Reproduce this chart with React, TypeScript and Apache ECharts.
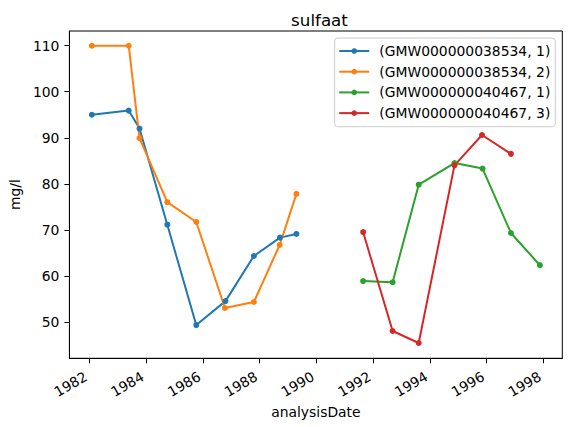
import React, { useEffect, useRef } from "react";
import * as echarts from "echarts";

const seriesNames = [
  "(GMW000000038534, 1)",
  "(GMW000000038534, 2)",
  "(GMW000000040467, 1)",
  "(GMW000000040467, 3)",
];
const colors = ["#1f77b4", "#ff7f0e", "#2ca02c", "#d62728"];

const years1 = [1982.09, 1983.39, 1983.77, 1984.75, 1985.77, 1986.8, 1987.8, 1988.72, 1989.3];
const values1 = [95.0, 95.9, 92.0, 71.1, 49.3, 54.5, 64.3, 68.3, 69.1];

const years2 = [1982.09, 1983.39, 1983.77, 1984.75, 1985.77, 1986.78, 1987.8, 1988.71, 1989.3];
const values2 = [110.0, 110.0, 89.9, 76.0, 71.7, 53.0, 54.3, 66.7, 77.8];

const years3 = [1991.65, 1992.69, 1993.61, 1994.87, 1995.86, 1996.86, 1997.88];
const values3 = [58.85, 58.6, 79.8, 84.5, 83.3, 69.3, 62.3];

const years4 = [1991.65, 1992.69, 1993.61, 1994.87, 1995.84, 1996.86];
const values4 = [69.5, 48.0, 45.4, 84.0, 90.6, 86.5];

const xTicks = [1982, 1984, 1986, 1988, 1990, 1992, 1994, 1996, 1998];
const yTicks = [50, 60, 70, 80, 90, 100, 110];

const allYears = [years1, years2, years3, years4];
const allValues = [values1, values2, values3, values4];

const FONT = "DejaVu Sans";
const FS = 13.9;

export default function App() {
  const ref = useRef<HTMLDivElement>(null);
  useEffect(() => {
    if (!ref.current) return;
    const chart = echarts.init(ref.current, undefined, { renderer: "svg" });
    const series = seriesNames.map((name, i) => ({
      name,
      type: "line",
      data: allYears[i].map((x, j) => [x, allValues[i][j]]),
      color: colors[i],
      symbol: "circle",
      symbolSize: 6,
      showSymbol: true,
      lineStyle: { width: 2, color: colors[i] },
      itemStyle: { color: colors[i] },
      emphasis: { disabled: true },
    }));
    chart.setOption({
      animation: false,
      backgroundColor: "#fff",
      textStyle: { fontFamily: FONT },
      title: {
        text: "sulfaat",
        left: 314.5,
        top: 6,
        textAlign: "center",
        textStyle: { fontFamily: FONT, fontSize: 16.7, fontWeight: "normal", color: "#000" },
      },
      grid: {
        left: 66.7,
        right: 8.7,
        top: 31,
        bottom: 68.7,
        show: true,
        borderColor: "#000",
        borderWidth: 1,
        containLabel: false,
      },
      legend: {
        orient: "vertical",
        right: 15.7,
        top: 38,
        data: seriesNames,
        itemWidth: 30,
        itemHeight: 7,
        itemGap: 4.7,
        padding: [5, 5, 5.6, 3.6],
        borderColor: "#cccccc",
        borderWidth: 1,
        borderRadius: 3,
        backgroundColor: "rgba(255,255,255,0.8)",
        textStyle: { fontFamily: FONT, fontSize: FS, lineHeight: 16, color: "#000", padding: [0, 0, 0, 5] },
      },
      xAxis: {
        type: "value",
        min: 1981.3,
        max: 1998.67,
        name: "analysisDate",
        nameLocation: "middle",
        nameGap: 46,
        nameTextStyle: { fontFamily: FONT, fontSize: FS, color: "#000" },
        splitLine: { show: false },
        axisLine: { show: true, onZero: false, lineStyle: { color: "#000", width: 1 } },
        axisTick: { show: true, length: 5, inside: false, customValues: xTicks, lineStyle: { color: "#000" } },
        axisLabel: {
          customValues: xTicks,
          rotate: 30,
          margin: 15,
          padding: [0, 4, 0, 0],
          fontFamily: FONT,
          fontSize: FS,
          color: "#000",
          formatter: (v: number) => String(Math.round(v)),
        },
      },
      yAxis: {
        type: "value",
        min: 42.07,
        max: 113.2,
        name: "mg/l",
        nameLocation: "middle",
        nameGap: 44,
        nameTextStyle: { fontFamily: FONT, fontSize: FS, color: "#000" },
        splitLine: { show: false },
        axisLine: { show: true, onZero: false, lineStyle: { color: "#000", width: 1 } },
        axisTick: { show: true, length: 5, inside: false, customValues: yTicks, lineStyle: { color: "#000" } },
        axisLabel: {
          customValues: yTicks,
          margin: 10,
          fontFamily: FONT,
          fontSize: FS,
          color: "#000",
          formatter: (v: number) => String(Math.round(v)),
        },
      },
      series,
    });
    return () => chart.dispose();
  }, []);
  return <div ref={ref} style={{ width: 571, height: 427, position: "absolute", left: 0, top: 0 }} />;
}
